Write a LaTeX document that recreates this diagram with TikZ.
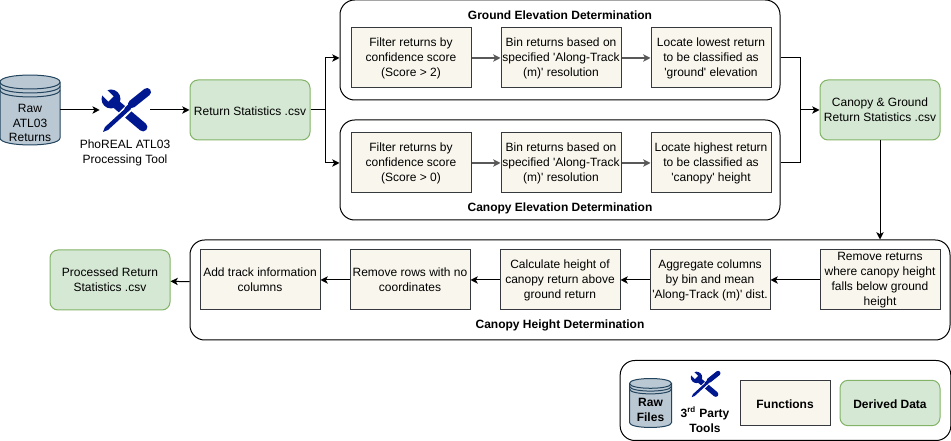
\documentclass[tikz,border=0pt]{standalone}
\usepackage{fontspec}
\setmainfont{Liberation Sans}
\usetikzlibrary{arrows.meta}
\definecolor{fnfill}{HTML}{F9F7ED}
\definecolor{fnline}{HTML}{36393D}
\definecolor{datafill}{HTML}{D5E8D4}
\definecolor{dataline}{HTML}{82B366}
\definecolor{drumfill}{HTML}{BAC8D3}
\definecolor{drumline}{HTML}{23445D}
\definecolor{toolblue}{HTML}{00188F}
\newcommand{\tick}{\textquotesingle{}}
\tikzset{
	every node/.style={font=\fontsize{9}{11.2}\selectfont,align=center,inner sep=0pt},
	edge/.style={-{Stealth[length=5.5pt,width=5.5pt,inset=1.5pt]},line width=.75pt},
	softedge/.style={edge,draw=black!65,line width=1pt},
	group/.style={draw=black,line width=.75pt,fill=white,rounded corners=11pt},
	func/.style={draw=fnline,line width=.75pt,fill=fnfill,minimum width=90pt,minimum height=45pt,execute at begin node={\rule{0pt}{8pt}}},
	data/.style={draw=dataline,line width=.75pt,fill=datafill,rounded corners=6pt,minimum width=90pt,minimum height=45pt,execute at begin node={\rule{0pt}{8pt}}},
	grouptitle/.style={font=\fontsize{9}{11.2}\selectfont\bfseries},
	keytext/.style={font=\fontsize{9}{11.2}\selectfont\bfseries},
	pics/drum/.style={code={
		\draw[drumline,line width=.75pt,fill=drumfill] (-30,-28) .. controls (-30,-37.3) and (30,-37.3) .. (30,-28)
			-- (30,28) .. controls (30,37.3) and (-30,37.3) .. (-30,28) -- cycle;
		\foreach \dy in {-28,-24,-20}
		\draw[drumline,line width=.75pt] (-30,\dy) .. controls (-30,\dy+9.3) and (30,\dy+9.3) .. (30,\dy);
	}},
	pics/toolicon/.style={code={
		\begin{scope}[scale=#1]
		\fill[toolblue] (-15,-11) circle (9.5);
		\draw[white,line width=#1*5.5pt] (-15,-11) -- (-27,-23);
		\draw[toolblue,line width=#1*6.6pt,line cap=round] (-9,-5) -- (17,17);
		\draw[white,line width=#1*6pt] (14,-13) -- (-8,9);
		\fill[toolblue] (-23,22) -- (-21,17) -- (2,-4) -- (5,-1) -- (-18,20) -- cycle;
		\draw[toolblue,line width=#1*3.6pt] (0,0) -- (6,-6);
		\draw[toolblue,line width=#1*6pt,line cap=round] (6,-6) -- (21,-18);
		\end{scope}
	}},
}

\begin{document}
\begin{tikzpicture}[x=.75pt,y=-.75pt]
	\useasboundingbox (0,0) rectangle (951,441);

	% groups
	\node[group,minimum width=330pt,minimum height=75pt] (ground) at (560,50) {};
	\node[group,minimum width=330pt,minimum height=75pt] (canopy) at (560,170) {};
	\node[group,minimum width=570pt,minimum height=75pt] (height) at (570,290) {};
	\node[group,minimum width=248pt,minimum height=60pt] (key) at (785.5,400.5) {};
	\node[grouptitle] (groundtitle) at (560,15.5) {Ground Elevation Determination};
	\node[grouptitle] (canopytitle) at (560,208) {Canopy Elevation Determination};
	\node[grouptitle] (heighttitle) at (560,325.5) {Canopy Height Determination};

	% source and tool
	\pic at (30,110) {drum};
	\node[minimum width=45pt,minimum height=52pt] (raw) at (30,110) {};
	\node (rawtext) at (30,123) {Raw\\ATL03\\Returns};
	\pic at (126,110) {toolicon=1};
	\node[minimum width=37.5pt,minimum height=33pt] (tool) at (125,110) {};
	\node (tooltext) at (125,153) {PhoREAL ATL03\\Processing Tool};

	% data
	\node[data] (stats) at (250,110) {Return Statistics .csv};
	\node[data] (merged) at (880,110) {Canopy \& Ground\\Return Statistics .csv};
	\node[data] (processed) at (110,280) {Processed Return\\Statistics .csv};

	% ground row
	\node[func] (g1) at (411,58) {Filter returns by\\confidence score\\(Score > 2)};
	\node[func] (g2) at (561,58) {Bin returns based on\\specified \tick Along-Track\\(m)\tick\ resolution};
	\node[func] (g3) at (711,58) {Locate lowest return\\to be classified as\\\tick ground\tick\ elevation};

	% canopy row
	\node[func] (c1) at (411,163) {Filter returns by\\confidence score\\(Score > 0)};
	\node[func] (c2) at (561,163) {Bin returns based on\\specified \tick Along-Track\\(m)\tick\ resolution};
	\node[func] (c3) at (711,163) {Locate highest return\\to be classified as\\\tick canopy\tick\ height};

	% height row
	\node[func] (h1) at (880,280) {Remove returns\\where canopy height\\falls below ground\\height};
	\node[func] (h2) at (710,280) {Aggregate columns\\by bin and mean\\\tick Along-Track (m)\tick\ dist.};
	\node[func] (h3) at (560,280) {Calculate height of\\canopy return above\\ground return};
	\node[func] (h4) at (410,280) {Remove rows with no\\coordinates};
	\node[func] (h5) at (260,280) {Add track information\\columns};

	% key
	\pic[scale=.7] at (650.5,403) {drum};
	\node[keytext] (keyraw) at (650.5,410) {Raw\\Files};
	\pic at (705.5,384) {toolicon=.6};
	\node[keytext] (keytool) at (705,420) {3\textsuperscript{rd} Party\\Tools};
	\node[func,keytext,minimum width=67.5pt,minimum height=34pt] (keyfunc) at (785,403) {Functions};
	\node[data,keytext,minimum width=75pt,minimum height=34pt] (keydata) at (890,403) {Derived Data};

	\foreach \from/\to in {g1/g2,g2/g3,c1/c2,c2/c3}
	\draw[softedge] (\from)--(\to);
	\foreach \from/\to in {raw/tool,tool/stats,h1/h2,h2/h3,h3/h4,h4/h5,height/processed}
	\draw[edge] (\from)--(\to);
	\draw[edge] (merged)--(merged |- height.north);

	% forks
	\coordinate (forkin) at (325,110);
	\coordinate (forkout) at (800,110);
	\draw[line width=.75pt] (stats)--(forkin);
	\draw[edge] (forkin) |- (g1 -| ground.west);
	\draw[edge] (forkin) |- (c1 -| canopy.west);
	\draw[line width=.75pt] (g3 -| ground.east) -| (forkout);
	\draw[line width=.75pt] (c3 -| canopy.east) -| (forkout);
	\draw[edge] (forkout)--(merged);
\end{tikzpicture}
\end{document}
